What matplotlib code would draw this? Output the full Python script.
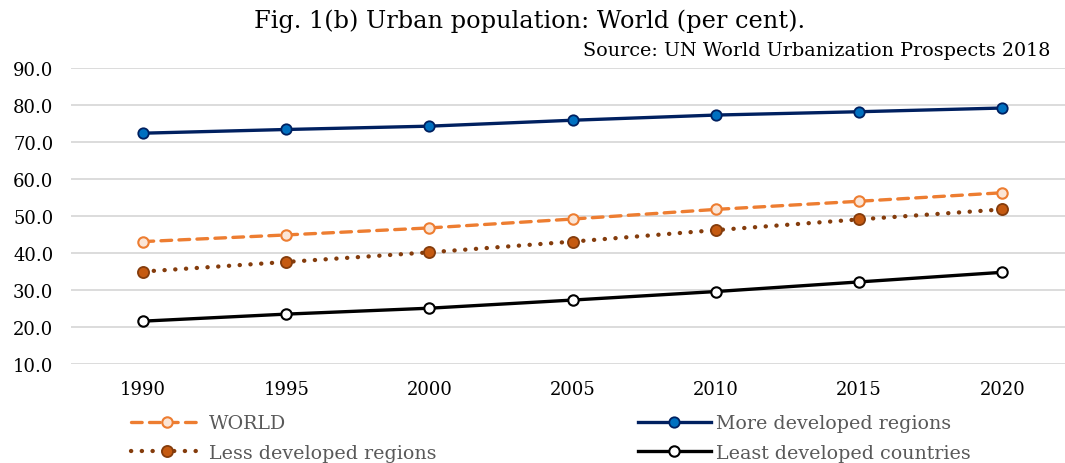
import matplotlib
matplotlib.use("Agg")
import matplotlib.pyplot as plt

years = ["1990", "1995", "2000", "2005", "2010", "2015", "2020"]
world = [43.0, 44.8, 46.7, 49.1, 51.7, 53.9, 56.2]
more_developed = [72.3, 73.3, 74.2, 75.8, 77.2, 78.1, 79.1]
less_developed = [34.9, 37.5, 40.1, 43.0, 46.1, 49.0, 51.7]
least_developed = [21.5, 23.4, 25.0, 27.2, 29.5, 32.1, 34.7]
y_ticks = [10, 20, 30, 40, 50, 60, 70, 80, 90]

plt.rcParams["font.family"] = ["DejaVu Serif"]

W, H = 1065, 464
fig = plt.figure(figsize=(W / 100, H / 100), dpi=100)
# axes box in pixel coordinates
left, right, top, bottom = 71.4, 1065, 68.7, 364.7
ax = fig.add_axes([left / W, 1 - bottom / H, (right - left) / W, (bottom - top) / H])

x = list(range(len(years)))
ax.set_xlim(-0.5, (right - 143.0) / 143.2)
ax.set_ylim(10, 90)

ax.set_yticks(y_ticks)
ax.set_yticklabels([f"{v:.1f}" for v in y_ticks], fontsize=13)
ax.set_xticks(x)
ax.set_xticklabels(years, fontsize=13)
ax.tick_params(axis="both", length=0)
ax.tick_params(axis="y", pad=13)
ax.tick_params(axis="x", pad=12)
for s in ax.spines.values():
    s.set_visible(False)
ax.grid(axis="y", color="#D9D9D9", linewidth=1.3)
ax.set_axisbelow(True)

lw = 2.4
l_world, = ax.plot(x, world, color="#ED7D31", lw=lw, linestyle=(0, (3.2, 2.2)),
                   dash_capstyle="round", marker="o", ms=7.5, mfc="#FBE5D6",
                   mec="#ED7D31", mew=1.5, label="WORLD", zorder=3)
l_more, = ax.plot(x, more_developed, color="#002060", lw=lw, marker="o", ms=7.5,
                  mfc="#0070C0", mec="#002060", mew=1.3,
                  label="More developed regions", zorder=3)
l_less, = ax.plot(x, less_developed, color="#843C0C", lw=3.1, linestyle=(0, (0.05, 2.45)),
                  dash_capstyle="round", marker="o", ms=8, mfc="#C55A11",
                  mec="#843C0C", mew=1.3, label="Less developed regions", zorder=3)
l_least, = ax.plot(x, least_developed, color="black", lw=lw, marker="o", ms=7.5,
                   mfc="white", mec="black", mew=1.5,
                   label="Least developed countries", zorder=3)

fig.text(530 / W, 1 - 21 / H, "Fig. 1(b) Urban population: World (per cent).",
         ha="center", va="center", fontsize=17.3)
fig.text(1050 / W, 1 - 51 / H, "Source: UN World Urbanization Prospects 2018",
         ha="right", va="center", fontsize=13.8)

leg = fig.legend(handles=[l_world, l_less, l_more, l_least], ncol=2,
                 loc="center", bbox_to_anchor=(551 / W, 1 - 439 / H),
                 frameon=False, fontsize=13.7, handlelength=3.8, handletextpad=0.3,
                 columnspacing=10.6, labelspacing=0.6, borderaxespad=0)
for t in leg.get_texts():
    t.set_color("#595959")

fig.savefig("out.png", dpi=100)
